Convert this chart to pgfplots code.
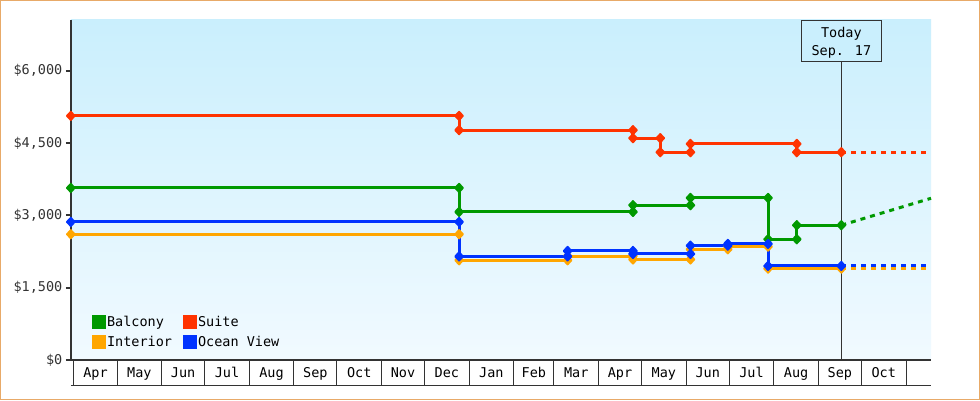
\documentclass[border=0pt]{standalone}
\usepackage{fontspec}
\setmainfont{DejaVu Sans Mono}
\usepackage{pgfplots}
\pgfplotsset{compat=1.18}

\definecolor{balcony}{RGB}{0,153,0}
\definecolor{suite}{RGB}{255,51,0}
\definecolor{interior}{RGB}{255,166,0}
\definecolor{ocean}{RGB}{0,51,255}
\definecolor{axiscol}{RGB}{51,51,51}
\definecolor{bgtop}{RGB}{202,239,253}
\definecolor{bgbot}{RGB}{241,250,255}
\definecolor{framecol}{RGB}{232,170,104}

% square diamond with rounded corners
\pgfdeclareplotmark{rdia}{%
  \pgfpathmoveto{\pgfqpoint{0pt}{4.2pt}}%
  \pgfpathlineto{\pgfqpoint{3.9pt}{0pt}}%
  \pgfpathlineto{\pgfqpoint{0pt}{-4.2pt}}%
  \pgfpathlineto{\pgfqpoint{-3.9pt}{0pt}}%
  \pgfpathclose
  \pgfusepathqfillstroke}

\pgfplotsset{
  price/.style={line width=3pt, mark=rdia,
    mark options={solid, line width=1.8pt, line join=round}},
  proj/.style={line width=3pt, dash pattern=on 5pt off 5pt, forget plot},
}

\begin{document}
\begin{tikzpicture}
\useasboundingbox (0,0) rectangle (980pt,400pt);
\fill[white] (0,0) rectangle (980pt,400pt);
\draw[framecol, line width=1pt] (0.5pt,0.5pt) rectangle (979.5pt,399.5pt);
\begin{axis}[
    at={(70.8pt,40pt)}, anchor=south west,
    scale only axis, width=860.2pt, height=340pt,
    xmin=-2.2, xmax=596.4, ymin=0, ymax=7050,
    clip=false,
    font=\fontsize{13.5}{16}\selectfont,
    axis background/.style={top color=bgtop, bottom color=bgbot},
    axis lines=left,
    axis line style={-, axiscol, line width=2.3pt},
    tick align=outside,
    major tick length=5pt,
    ytick={0,1500,3000,4500,6000},
    yticklabels={{\$0},{\$1,500},{\$3,000},{\$4,500},{\$6,000}},
    ytick style={axiscol, line width=2pt},
    yticklabel style={text=axiscol},
    xtick={15,45.5,76,106.5,137.5,168,198.5,229,259.5,290.5,320,349.5,380,410.5,441,471.5,502.5,533,563.5},
    xticklabels={Apr,May,Jun,Jul,Aug,Sep,Oct,Nov,Dec,Jan,Feb,Mar,Apr,May,Jun,Jul,Aug,Sep,Oct},
    xtick style={draw=none},
    xticklabel style={anchor=center, yshift=-9pt, text height=9.5pt, text depth=2.5pt},
    legend columns=2,
    legend cell align=left,
    legend style={draw=none, fill=none, at={(0,0)}, anchor=south west,
      xshift=21pt, yshift=11pt, inner sep=0pt,
      nodes={inner sep=1pt}, row sep=6pt, column sep=0pt,
      /tikz/every even column/.append style={column sep=10pt}},
    legend image code/.code={\fill[#1] (0pt,-5.5pt) rectangle (11pt,5.5pt);},
  ]
  % month cells under the axis
  \pgfplotsinvokeforeach{0,30,61,91,122,153,183,214,244,275,306,334,365,395,426,456,487,518,548,579}{
    \draw[axiscol, line width=1pt] (axis cs:#1,0) -- ++(0pt,-25pt);
  }
  \draw[axiscol, line width=1pt] ([yshift=-25pt]rel axis cs:0,0) -- ([yshift=-25pt]rel axis cs:1,0);

  % today marker
  \draw[axiscol, line width=1pt] (axis cs:534,0) -- (axis cs:534,6500);
  \node[draw=axiscol, line width=1pt, fill=bgtop, minimum width=80.4pt,
    minimum height=40.7pt, inner sep=0pt, align=center, anchor=north,
    font=\fontsize{13.5}{18}\selectfont] at (axis cs:534,7050)
    {\rule{0pt}{14pt}Today\\Sep. 17};

  \addplot[price, balcony] coordinates {
    (-2.2,3568) (268,3568) (268,3071) (389,3071) (389,3210) (429,3210)
    (429,3361) (483,3361) (483,2504) (503,2504) (503,2795) (534,2795)};
  \addlegendentry{Balcony}
  \addplot[price, suite] coordinates {
    (-2.2,5062) (268,5062) (268,4766) (389,4766) (389,4600) (408,4600)
    (408,4309) (429,4309) (429,4481) (503,4481) (503,4309) (534,4309)};
  \addlegendentry{Suite}
  \addplot[price, interior] coordinates {
    (-2.2,2608) (268,2608) (268,2068) (343.5,2068) (343.5,2155) (389,2155)
    (389,2085) (429,2085) (429,2296) (455,2296) (455,2351) (483,2351)
    (483,1895) (534,1895)};
  \addlegendentry{Interior}
  \addplot[price, ocean] coordinates {
    (-2.2,2863) (268,2863) (268,2148) (343.5,2148) (343.5,2261) (389,2261)
    (389,2199) (429,2199) (429,2371) (455,2371) (455,2407) (483,2407)
    (483,1950) (534,1950)};
  \addlegendentry{Ocean View}

  % projections after today
  \addplot[proj, suite] coordinates {(534,4309) (596.4,4309)};
  \addplot[proj, balcony] coordinates {(534,2795) (596.4,3353)};
  \addplot[proj, interior] coordinates {(534,1895) (596.4,1895)};
  \addplot[proj, ocean] coordinates {(534,1950) (596.4,1950)};
\end{axis}
\end{tikzpicture}
\end{document}
